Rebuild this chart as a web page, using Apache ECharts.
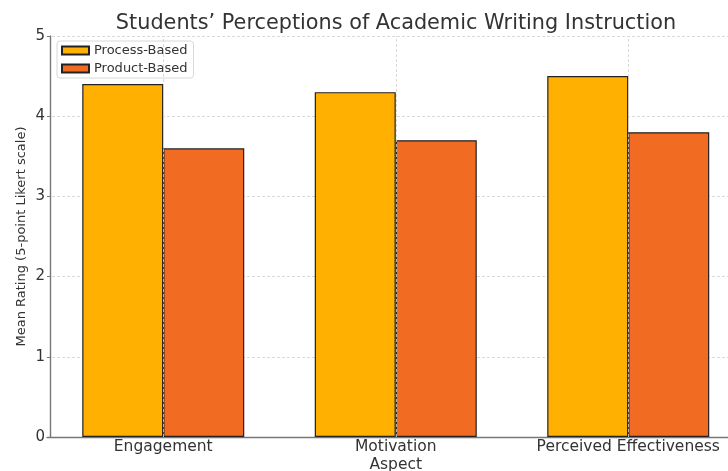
<!DOCTYPE html>
<html>
<head>
<meta charset="utf-8">
<script src="https://cdn.jsdelivr.net/npm/echarts@6/dist/echarts.min.js"></script>
<style>
  html, body { margin: 0; padding: 0; background: #fff; }
  #chart { width: 728px; height: 471px; }
</style>
</head>
<body>
<div id="chart"></div>
<script>
// Survey aspects and mean ratings on a 5-point Likert scale
const aspects = ['Engagement', 'Motivation', 'Perceived Effectiveness'];
const processBased = [4.4, 4.3, 4.5];
const productBased = [3.6, 3.7, 3.8];
const seriesNames = ['Process-Based', 'Product-Based'];

const font = 'DejaVu Sans';
const textColor = '#333';

const chart = echarts.init(document.getElementById('chart'), null, { renderer: 'canvas' });

chart.setOption({
  animation: false,
  textStyle: { fontFamily: font, color: textColor },
  title: {
    text: 'Students\u2019 Perceptions of Academic Writing Instruction',
    left: 391, top: 8, textAlign: 'center',
    textStyle: { fontFamily: font, fontSize: 20.8, fontWeight: 'normal', color: textColor }
  },
  legend: {
    orient: 'vertical',
    left: 57, top: 41,
    itemWidth: 27, itemHeight: 8, itemGap: 5,
    padding: [3, 6, 3, 4],
    backgroundColor: 'rgba(255,255,255,0.85)',
    borderColor: '#d8d8d8', borderWidth: 1, borderRadius: 3,
    icon: 'rect',
    textStyle: { fontFamily: font, fontSize: 13, color: textColor },
    data: seriesNames
  },
  // the plot area runs a little past the right edge of the canvas
  grid: { left: 47, top: 36, width: 697.5, height: 401, outerBoundsMode: 'none', containLabel: false },
  xAxis: {
    type: 'category',
    data: aspects,
    name: 'Aspect',
    nameLocation: 'middle',
    nameMoveOverlap: false,
    nameGap: 20,
    nameTextStyle: { fontFamily: font, fontSize: 15.5, color: textColor },
    axisLine: { show: true, lineStyle: { color: '#777', width: 1.4 } },
    axisTick: { show: false },
    axisLabel: { fontFamily: font, fontSize: 15.5, color: textColor, margin: 2, interval: 0 },
    splitLine: { show: false }
  },
  yAxis: {
    type: 'value',
    min: 0, max: 5, interval: 1,
    offset: -3,
    name: 'Mean Rating (5-point Likert scale)',
    nameLocation: 'middle',
    nameMoveOverlap: false,
    nameGap: 22,
    nameTextStyle: { fontFamily: font, fontSize: 13, color: textColor },
    axisLine: { show: true, lineStyle: { color: '#777', width: 1.4 } },
    axisTick: { show: true, length: 3, lineStyle: { color: '#777' } },
    axisLabel: { fontFamily: font, fontSize: 15, color: textColor, margin: 5 },
    splitLine: { show: true, lineStyle: { color: '#d0d0d0', type: [3, 2], width: 0.8 } }
  },
  series: [
    {
      // vertical grid lines at category centres, drawn beneath the bars
      type: 'line',
      data: [],
      z: 0,
      silent: true,
      markLine: {
        symbol: 'none',
        silent: true,
        label: { show: false },
        lineStyle: { color: '#d0d0d0', type: [3, 2], width: 0.8 },
        data: aspects.map(a => ({ xAxis: a }))
      }
    },
    {
      name: seriesNames[0],
      type: 'bar',
      data: processBased,
      barWidth: 81,
      barGap: '0%',
      z: 2,
      itemStyle: { color: '#FFB000', borderColor: '#222', borderWidth: 1.2 }
    },
    {
      name: seriesNames[1],
      type: 'bar',
      data: productBased,
      barWidth: 81,
      barGap: '0%',
      z: 2,
      itemStyle: { color: '#F26B22', borderColor: '#222', borderWidth: 1.2 }
    }
  ]
});
</script>
</body>
</html>
